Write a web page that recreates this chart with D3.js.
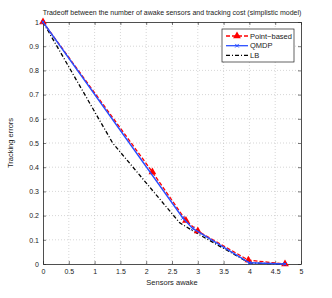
<!DOCTYPE html>
<html>
<head>
<meta charset="utf-8">
<script src="https://cdn.jsdelivr.net/npm/d3@7"></script>
<style>
body { margin: 0; background: #fff; }
text { font-family: "Liberation Sans", Arial, sans-serif; }
</style>
</head>
<body>
<div id="chart"></div>
<script>
var xTicks = [0, 0.5, 1, 1.5, 2, 2.5, 3, 3.5, 4, 4.5, 5];
var yTicks = [0, 0.1, 0.2, 0.3, 0.4, 0.5, 0.6, 0.7, 0.8, 0.9, 1];

var pointBasedX = [0, 2.12, 2.77, 3.0, 3.98, 4.69];
var pointBasedY = [1, 0.38, 0.18, 0.136, 0.016, 0];
var qmdpX = [0, 2.71, 2.9, 4.0, 4.69];
var qmdpY = [1, 0.19, 0.147, 0.005, 0];
var lbX = [0, 1.35, 2.65, 3.0, 4.0, 4.69];
var lbY = [1, 0.5, 0.17, 0.125, 0.004, 0];

var seriesNames = ["Point\u2212based", "QMDP", "LB"];

var width = 332, height = 298;
var margin = {left: 43, right: 31, top: 22, bottom: 34};

var svg = d3.select("#chart").append("svg")
    .attr("width", width)
    .attr("height", height);

var x = d3.scaleLinear().domain([0, 5]).range([margin.left, width - margin.right]);
var y = d3.scaleLinear().domain([0, 1]).range([height - margin.bottom, margin.top]);

// grid
svg.append("g").selectAll("line").data(xTicks.slice(1, -1)).enter().append("line")
    .attr("x1", d => x(d)).attr("x2", d => x(d))
    .attr("y1", y(0)).attr("y2", y(1))
    .attr("stroke", "#bbb").attr("stroke-width", 0.6).attr("stroke-dasharray", "1,2");
svg.append("g").selectAll("line").data(yTicks.slice(1, -1)).enter().append("line")
    .attr("y1", d => y(d)).attr("y2", d => y(d))
    .attr("x1", x(0)).attr("x2", x(5))
    .attr("stroke", "#bbb").attr("stroke-width", 0.6).attr("stroke-dasharray", "1,2");

// axes
var xAxis = svg.append("g").attr("transform", "translate(0," + y(0) + ")")
    .call(d3.axisBottom(x).tickValues(xTicks).tickSizeInner(-3).tickSizeOuter(0).tickPadding(5).tickFormat(d3.format("")));
var yAxis = svg.append("g").attr("transform", "translate(" + x(0) + ",0)")
    .call(d3.axisLeft(y).tickValues(yTicks).tickSizeInner(-3).tickSizeOuter(0).tickPadding(4).tickFormat(d3.format("")));
svg.append("g").attr("transform", "translate(0," + y(1) + ")")
    .call(d3.axisTop(x).tickValues(xTicks).tickSizeInner(-3).tickSizeOuter(0).tickFormat(""));
svg.append("g").attr("transform", "translate(" + x(5) + ",0)")
    .call(d3.axisRight(y).tickValues(yTicks).tickSizeInner(-3).tickSizeOuter(0).tickFormat(""));
svg.selectAll(".domain").attr("stroke", "#222").attr("stroke-width", 0.8);
svg.selectAll(".tick line").attr("stroke", "#222").attr("stroke-width", 0.6);
svg.selectAll(".tick text").style("font-size", "7px").attr("fill", "#222");

// series
var line = d3.line().x(d => x(d[0])).y(d => y(d[1]));
var pb = d3.zip(pointBasedX, pointBasedY);
var qm = d3.zip(qmdpX, qmdpY);
var lb = d3.zip(lbX, lbY);

svg.append("path").datum(lb).attr("d", line).attr("fill", "none")
    .attr("stroke", "#000").attr("stroke-width", 1.3).attr("stroke-dasharray", "4,2,1,2");
svg.append("path").datum(pb).attr("d", line).attr("fill", "none")
    .attr("stroke", "#f00").attr("stroke-width", 1.3).attr("stroke-dasharray", "4,2");
svg.append("g").selectAll("path").data(pb).enter().append("path")
    .attr("d", d3.symbol().type(d3.symbolTriangle).size(26))
    .attr("transform", d => "translate(" + x(d[0]) + "," + y(d[1]) + ")")
    .attr("fill", "#f00");
svg.append("path").datum(qm).attr("d", line).attr("fill", "none")
    .attr("stroke", "#2a4dff").attr("stroke-width", 1.4);
svg.append("g").selectAll("path").data(qm).enter().append("path")
    .attr("d", d3.symbol().type(d3.symbolTimes).size(10))
    .attr("transform", d => "translate(" + x(d[0]) + "," + y(d[1]) + ")")
    .attr("stroke", "#2a4dff").attr("stroke-width", 1).attr("fill", "none");

// title and labels
svg.append("text").attr("x", 172).attr("y", 15).attr("text-anchor", "middle")
    .style("font-size", "7px").attr("fill", "#222")
    .text("Tradeoff between the number of awake sensors and tracking cost (simplistic model)");
svg.append("text").attr("x", 172).attr("y", 285).attr("text-anchor", "middle")
    .style("font-size", "7.5px").attr("fill", "#222").text("Sensors awake");
svg.append("text").attr("transform", "translate(13,143) rotate(-90)").attr("text-anchor", "middle")
    .style("font-size", "7.5px").attr("fill", "#222").text("Tracking errors");

// legend
var legend = svg.append("g").attr("transform", "translate(222,29)");
legend.append("rect").attr("width", 72).attr("height", 33)
    .attr("fill", "#fff").attr("stroke", "#222").attr("stroke-width", 0.7);
var styles = [
    {stroke: "#f00", dash: "4,2", marker: "tri"},
    {stroke: "#2a4dff", dash: null, marker: "x"},
    {stroke: "#000", dash: "4,2,1,2", marker: null}
];
seriesNames.forEach(function (name, i) {
    var yy = 7 + i * 9.7;
    legend.append("line").attr("x1", 4).attr("x2", 26).attr("y1", yy).attr("y2", yy)
        .attr("stroke", styles[i].stroke).attr("stroke-width", 1.3)
        .attr("stroke-dasharray", styles[i].dash);
    if (styles[i].marker == "tri") {
        legend.append("path").attr("d", d3.symbol().type(d3.symbolTriangle).size(26))
            .attr("transform", "translate(15," + yy + ")").attr("fill", "#f00");
    } else if (styles[i].marker == "x") {
        legend.append("path").attr("d", d3.symbol().type(d3.symbolTimes).size(10))
            .attr("transform", "translate(15," + yy + ")")
            .attr("stroke", "#2a4dff").attr("fill", "none");
    }
    legend.append("text").attr("x", 28).attr("y", yy).attr("dy", "0.35em")
        .style("font-size", "7.5px").attr("fill", "#222").text(name);
});
</script>
</body>
</html>
